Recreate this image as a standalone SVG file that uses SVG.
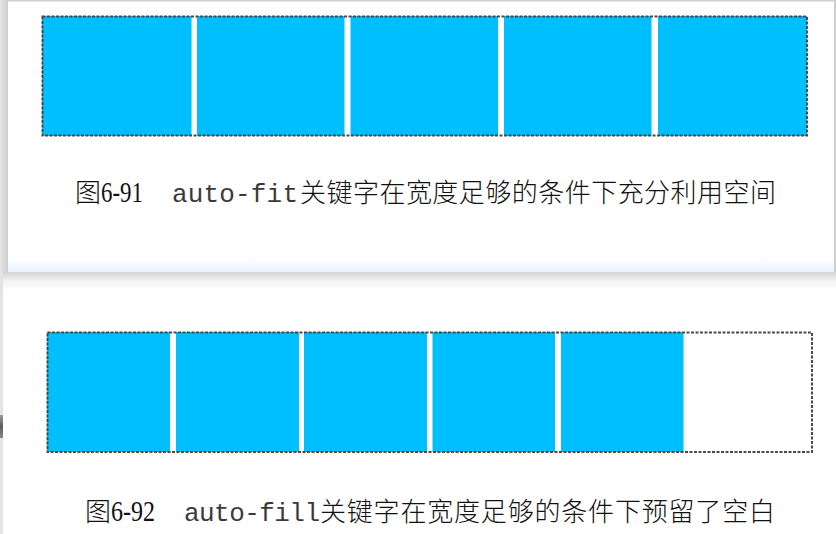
<svg xmlns="http://www.w3.org/2000/svg" width="836" height="534" viewBox="0 0 836 534">
<defs>
<linearGradient id="shadowL" x1="0" y1="0" x2="1" y2="0">
<stop offset="0" stop-color="#e6e6e6"/><stop offset="1" stop-color="#cfcfcf"/>
</linearGradient>
<linearGradient id="cardBottom" x1="0" y1="0" x2="0" y2="1">
<stop offset="0" stop-color="#ffffff"/><stop offset="1" stop-color="#e8f2fd"/>
</linearGradient>
<linearGradient id="shadowB" x1="0" y1="0" x2="0" y2="1">
<stop offset="0" stop-color="#d4d4d4"/><stop offset="0.5" stop-color="#f2f2f2"/><stop offset="1" stop-color="#ffffff"/>
</linearGradient>
<linearGradient id="tab" x1="0" y1="0" x2="0" y2="1">
<stop offset="0" stop-color="#9a9a9a"/><stop offset="0.5" stop-color="#5e5e5e"/><stop offset="1" stop-color="#8a8a8a"/>
</linearGradient>
<style>
.cell{fill:#00bfff;}
.frame{fill:none;stroke:#4a4a4a;stroke-width:2;stroke-dasharray:3 1.5;}
.cap{font-family:"Liberation Serif","Noto Sans CJK SC",serif;font-size:26px;fill:#111111;}
.num{font-size:30px;}
.mono{font-family:"Liberation Mono","DejaVu Sans Mono",monospace;font-size:26px;font-weight:400;fill:#3a3a3a;}
.cjk{font-family:"Noto Sans CJK SC","Liberation Serif",serif;font-weight:300;}
</style>
</defs>
<rect x="0" y="0" width="836" height="534" fill="#ffffff"/>
<!-- page backdrop edges -->
<rect x="0" y="0" width="8" height="272" fill="url(#shadowL)"/>
<rect x="0" y="272" width="3" height="262" fill="#e4e4e4"/>
<rect x="0" y="415" width="3" height="23" fill="url(#tab)"/>
<rect x="3" y="272" width="833" height="18" fill="url(#shadowB)"/>
<!-- top card -->
<g id="card1">
<rect x="8" y="0" width="826" height="272" fill="#ffffff"/>
<rect x="8" y="258" width="826" height="14" fill="url(#cardBottom)"/>
<rect x="8" y="0" width="828" height="1.5" fill="#cfcfcf"/>
<rect x="834" y="0" width="2" height="272" fill="#cfcfcf"/>
</g>
<g id="grid1">
<rect class="cell" x="42" y="16" width="149.5" height="120"/>
<rect class="cell" x="197" y="16" width="147.5" height="120"/>
<rect class="cell" x="350.5" y="16" width="147.5" height="120"/>
<rect class="cell" x="504" y="16" width="147.5" height="120"/>
<rect class="cell" x="658" y="16" width="149" height="120"/>
<rect class="frame" x="42.5" y="16.5" width="764.5" height="119"/>
</g>
<g id="caption1">
<text class="cap" y="202"><tspan x="75" class="cjk">图</tspan><tspan x="101" class="num" textLength="42" lengthAdjust="spacingAndGlyphs">6-91</tspan><tspan x="172" class="mono" textLength="126">auto-fit</tspan><tspan x="300" class="cjk" textLength="476">关键字在宽度足够的条件下充分利用空间</tspan></text>
</g>
<g id="grid2">
<rect class="cell" x="47" y="332" width="123" height="120"/>
<rect class="cell" x="176" y="332" width="123" height="120"/>
<rect class="cell" x="304" y="332" width="123" height="120"/>
<rect class="cell" x="432.5" y="332" width="122.5" height="120"/>
<rect class="cell" x="561" y="332" width="122.5" height="120"/>
<rect class="frame" x="47.5" y="332.5" width="764.5" height="119.5"/>
</g>
<g id="caption2">
<text class="cap" y="521"><tspan x="85" class="cjk">图</tspan><tspan x="111" class="num" textLength="44" lengthAdjust="spacingAndGlyphs">6-92</tspan><tspan x="184" class="mono" textLength="136">auto-fill</tspan><tspan x="320" class="cjk" textLength="455">关键字在宽度足够的条件下预留了空白</tspan></text>
</g>
</svg>
